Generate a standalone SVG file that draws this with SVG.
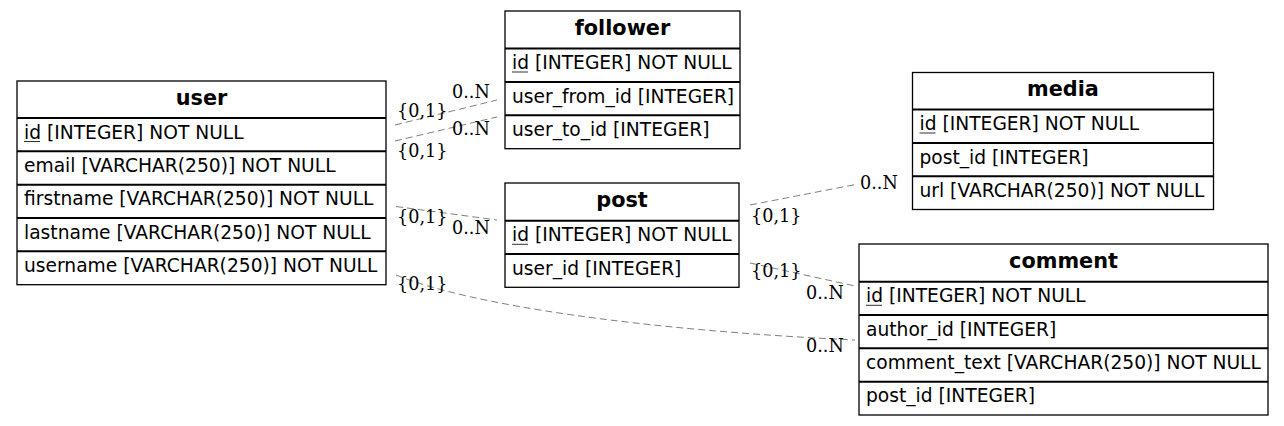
<svg xmlns="http://www.w3.org/2000/svg" width="1284" height="426" viewBox="0 0 1284 426">
<style>
.box{fill:#fff;stroke:#000;stroke-width:1.3}
.sep{stroke:#000;stroke-width:2}
.h{font-family:"DejaVu Sans",sans-serif;font-weight:bold;font-size:20.8px;text-anchor:middle;fill:#000}
.f{font-family:"DejaVu Sans",sans-serif;font-size:18.67px;fill:#000}
.ul{stroke:#333;stroke-width:1}
.e{fill:none;stroke:#808080;stroke-width:1;stroke-dasharray:7,4}
.l{font-family:"DejaVu Serif",serif;font-size:17.6px;fill:#000}
</style>
<rect width="1284" height="426" fill="#fff"/>
<g id="edges">
<path class="e" d="M395,125 L497,100"/>
<path class="e" d="M395,141 L497,117"/>
<path class="e" d="M396,206.5 L497,220"/>
<path class="e" d="M396,275 C470,305 640,330 855,340"/>
<path class="e" d="M750,205 L858,184"/>
<path class="e" d="M750,263 L855,286"/>
<text class="l" x="397" y="117">{0,1}</text>
<text class="l" x="452" y="98">0..N</text>
<text class="l" x="452" y="135">0..N</text>
<text class="l" x="397" y="157">{0,1}</text>
<text class="l" x="397" y="222.5">{0,1}</text>
<text class="l" x="452" y="234">0..N</text>
<text class="l" x="397" y="289.5">{0,1}</text>
<text class="l" x="806" y="352">0..N</text>
<text class="l" x="751" y="222">{0,1}</text>
<text class="l" x="860" y="189">0..N</text>
<text class="l" x="751" y="277">{0,1}</text>
<text class="l" x="806" y="299">0..N</text>
</g>
<g id="user">
<rect class="box" x="17" y="81" width="369" height="203.7"/>
<line class="sep" x1="17" y1="118" x2="386" y2="118"/>
<line class="sep" x1="17" y1="151.3" x2="386" y2="151.3"/>
<line class="sep" x1="17" y1="184.7" x2="386" y2="184.7"/>
<line class="sep" x1="17" y1="218" x2="386" y2="218"/>
<line class="sep" x1="17" y1="251.3" x2="386" y2="251.3"/>
<text class="h" x="201.5" y="104.5">user</text>
<text class="f" x="24" y="138.5">id [INTEGER] NOT NULL</text>
<line class="ul" x1="24" y1="141.5" x2="40" y2="141.5"/>
<text class="f" x="24" y="172">email [VARCHAR(250)] NOT NULL</text>
<text class="f" x="24" y="205.3">firstname [VARCHAR(250)] NOT NULL</text>
<text class="f" x="24" y="238.7">lastname [VARCHAR(250)] NOT NULL</text>
<text class="f" x="24" y="272">username [VARCHAR(250)] NOT NULL</text>
</g>
<g id="follower">
<rect class="box" x="505" y="11" width="235" height="137.7"/>
<line class="sep" x1="505" y1="48.5" x2="740" y2="48.5"/>
<line class="sep" x1="505" y1="82" x2="740" y2="82"/>
<line class="sep" x1="505" y1="115.3" x2="740" y2="115.3"/>
<text class="h" x="622.5" y="34.5">follower</text>
<text class="f" x="512" y="69">id [INTEGER] NOT NULL</text>
<line class="ul" x1="512" y1="72" x2="528" y2="72"/>
<text class="f" x="512" y="102.5">user_from_id [INTEGER]</text>
<text class="f" x="512" y="136">user_to_id [INTEGER]</text>
</g>
<g id="post">
<rect class="box" x="505" y="183" width="234" height="104.3"/>
<line class="sep" x1="505" y1="220.7" x2="739" y2="220.7"/>
<line class="sep" x1="505" y1="254" x2="739" y2="254"/>
<text class="h" x="622" y="206.5">post</text>
<text class="f" x="512" y="241.3">id [INTEGER] NOT NULL</text>
<line class="ul" x1="512" y1="244.3" x2="528" y2="244.3"/>
<text class="f" x="512" y="274.7">user_id [INTEGER]</text>
</g>
<g id="media">
<rect class="box" x="912.5" y="72.5" width="301" height="137"/>
<line class="sep" x1="912.5" y1="109.5" x2="1213.5" y2="109.5"/>
<line class="sep" x1="912.5" y1="143" x2="1213.5" y2="143"/>
<line class="sep" x1="912.5" y1="176.3" x2="1213.5" y2="176.3"/>
<text class="h" x="1063" y="95.5">media</text>
<text class="f" x="919.5" y="130">id [INTEGER] NOT NULL</text>
<line class="ul" x1="919.5" y1="133" x2="935.5" y2="133"/>
<text class="f" x="919.5" y="163.5">post_id [INTEGER]</text>
<text class="f" x="919.5" y="197">url [VARCHAR(250)] NOT NULL</text>
</g>
<g id="comment">
<rect class="box" x="859" y="244" width="409" height="171"/>
<line class="sep" x1="859" y1="281.7" x2="1268" y2="281.7"/>
<line class="sep" x1="859" y1="315" x2="1268" y2="315"/>
<line class="sep" x1="859" y1="348.3" x2="1268" y2="348.3"/>
<line class="sep" x1="859" y1="381.7" x2="1268" y2="381.7"/>
<text class="h" x="1063.5" y="267.5">comment</text>
<text class="f" x="866" y="302.3">id [INTEGER] NOT NULL</text>
<line class="ul" x1="866" y1="305.3" x2="882" y2="305.3"/>
<text class="f" x="866" y="335.7">author_id [INTEGER]</text>
<text class="f" x="866" y="369">comment_text [VARCHAR(250)] NOT NULL</text>
<text class="f" x="866" y="402.3">post_id [INTEGER]</text>
</g>
</svg>
